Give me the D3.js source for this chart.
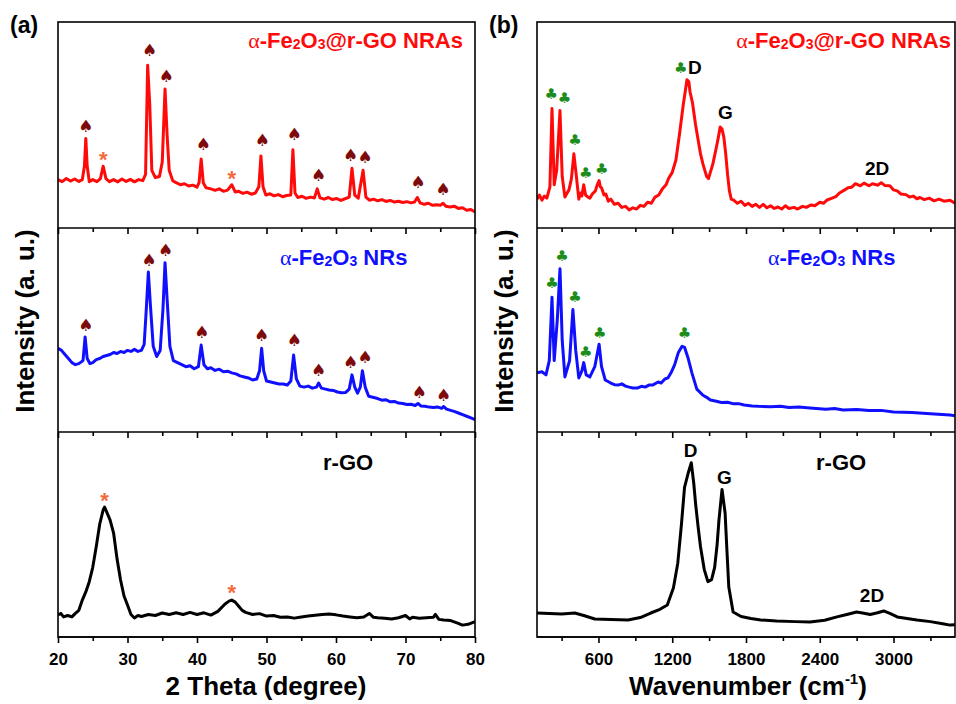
<!DOCTYPE html>
<html><head><meta charset="utf-8">
<script src="https://cdn.jsdelivr.net/npm/d3@7"></script>
<style>body{margin:0;background:#fff}svg{display:block}</style>
</head><body>
<svg id="c" width="956" height="704"></svg>
<script>
// ---------- DATA (intensity in arbitrary units, 0-100 per stacked panel) ----------
const xrdComposite = [[20,23.5],[20.6,22.5],[21.2,24],[21.8,22.8],[22.4,23.8],[23,22.6],[23.5,23.5],[23.8,30],[24.0,43.5],[24.2,30],[24.5,22.5],[25,23.5],[25.6,22.5],[26.1,24],[26.5,30],[26.9,24],[27.4,22.5],[28,23.5],[28.6,22.4],[29.2,23.8],[29.8,22.6],[30.4,23.6],[31,22.4],[31.6,23.5],[32.2,23],[32.6,26],[32.9,79],[33.2,60],[33.5,28],[34,24.5],[34.6,25],[35.0,32],[35.4,67.5],[35.7,45],[36.0,28],[36.5,23],[37,22],[37.6,21],[38.2,21.5],[38.8,20.4],[39.4,20.8],[40,19.8],[40.3,22],[40.6,33.5],[40.9,22],[41.3,19.5],[42,19],[42.6,18.3],[43.2,19],[43.8,17.8],[44.4,18.4],[45,21],[45.5,17.5],[46,17.8],[46.6,16.8],[47.2,17.4],[47.8,16.4],[48.4,17],[48.9,20],[49.2,35],[49.5,20],[49.9,16],[50.5,16.6],[51.1,15.6],[51.7,16.2],[52.3,15.2],[52.9,15.8],[53.5,16],[53.8,38],[54.1,17],[54.5,14.8],[55.1,15.4],[55.7,14.4],[56.3,15],[56.9,14.6],[57.3,19],[57.7,14.6],[58.3,14],[58.9,14.8],[59.5,13.8],[60.1,14.3],[60.7,13.4],[61.3,14.2],[61.9,15],[62.3,29],[62.7,16],[63.2,14.5],[63.9,28],[64.3,15],[64.8,13.5],[65.4,14],[66,13.2],[66.6,13.8],[67.2,12.9],[67.8,13.4],[68.4,12.6],[69,13],[69.6,12.4],[70.2,12.8],[70.8,12.2],[71.3,12.6],[71.7,14.8],[72.1,12.2],[72.7,11.5],[73.3,12],[73.9,11],[74.5,11.3],[75,11],[75.4,12],[75.8,10.6],[76.4,10.2],[77,10.6],[77.6,9.5],[78.2,9.8],[78.8,8.6],[79.4,9],[80,7.8]];
const xrdHematite = [[20,41],[20.5,40],[21,38],[21.5,36],[22,34],[22.5,33],[23,33.5],[23.6,35],[23.9,46.6],[24.2,36],[24.6,33.5],[25,34],[25.5,35.5],[26,36],[26.5,37],[27,37.5],[27.5,38],[28,39],[28.5,38.5],[29,39.5],[29.5,39],[30,40],[30.5,39.5],[31,40.5],[31.5,39.5],[32,40],[32.4,43],[32.7,60],[33.0,78.4],[33.3,62],[33.7,42],[34.2,37],[34.7,40],[35.1,60],[35.4,83],[35.7,65],[36.1,42],[36.6,35],[37.2,34],[37.8,33],[38.4,32],[39,32.5],[39.6,31],[40.2,32],[40.6,42.6],[41,33],[41.5,31],[42,31.5],[42.6,30.2],[43.2,30.8],[43.8,29.5],[44.4,29.8],[45,29],[45.6,28.5],[46.2,27.5],[46.8,27],[47.4,26.5],[48,25.5],[48.6,26],[49.0,30],[49.3,41],[49.6,30],[50,25],[50.6,24.5],[51.2,24],[51.8,23.5],[52.4,23.5],[53,23],[53.5,25],[53.9,37.7],[54.3,26],[54.8,22.5],[55.4,22],[56,22.5],[56.6,21.5],[57.2,22],[57.5,24],[57.9,21.5],[58.5,21],[59,20.6],[59.6,20.4],[60.2,19.6],[60.8,19.2],[61.4,19.4],[61.9,21],[62.3,28],[62.7,22],[63.1,19],[63.5,22],[63.8,30],[64.2,22],[64.7,17.5],[65.3,17],[66,16.4],[66.6,15.6],[67.2,15.8],[67.8,14.8],[68.4,15],[69,14.2],[69.6,14],[70.2,13.5],[70.8,13.6],[71.4,13],[71.8,14],[72.2,12.8],[72.8,12.6],[73.4,12.2],[74,12],[74.6,12.3],[75.2,11.6],[75.5,12.5],[75.9,11.2],[76.5,10.6],[77.1,10],[77.7,9.2],[78.3,8.4],[78.9,7.6],[79.5,6.8],[80,6]];
const xrdRGO = [[20,10.7],[20.4,11.5],[20.8,9.8],[21.4,10.5],[22,9.8],[22.5,11.5],[23,13],[23.5,18],[24,22],[24.5,27],[25,34],[25.5,44],[26,55],[26.5,62],[26.7,63.4],[27,61],[27.5,57],[28,50.7],[28.5,38],[29,27.8],[29.5,20],[30,15.6],[30.5,11],[31,9.3],[31.5,10.5],[32,10],[33,11],[34,10.5],[35,11.7],[36,11],[37,11.8],[38,11],[39,12],[40,11],[41,11.8],[42,10.7],[43,12.5],[44,16],[44.6,17.5],[45,18],[45.5,17],[46,15],[46.5,13],[47,12],[48,11],[49,11.4],[50,10.2],[51,10.5],[52,9.6],[53,9.8],[54,9.2],[55,9.8],[56,10.2],[57,10.6],[58,11],[59,11.2],[60,10.8],[61,10.2],[62,9.8],[63,9.4],[64,9.8],[64.8,11.5],[65.4,9.6],[66,9.4],[67,9.2],[68,8.8],[69,9.4],[70,10.5],[70.6,8.8],[71,9.6],[72,9.2],[73,9.4],[74,9.6],[74.3,11],[74.8,8.6],[75.5,8.3],[76.5,8],[77.5,6.8],[78.2,5.8],[79,6.2],[80,7.5]];

const ramanComposite = [[100,14],[120,16],[140,13.5],[160,15.5],[180,14.5],[205,20],[222,58],[240,21],[260,28],[287,57],[305,25],[327,15],[345,17],[360,18.5],[380,24],[400,36],[415,28],[440,14],[455,17],[465,15.5],[480,21],[495,16],[515,15],[530,14.5],[550,16.5],[575,18],[590,21],[605,23],[615,20],[625,19.5],[645,16],[660,16.5],[680,13],[700,14],[730,11.5],[760,12],[790,10],[820,10.5],[850,8.8],[880,9.8],[910,9.2],[940,11],[970,10.5],[1000,12.5],[1030,12],[1060,15],[1090,16],[1120,19],[1150,21],[1170,24],[1200,27],[1230,33],[1260,46],[1290,60],[1310,68],[1320,72],[1335,71],[1345,66],[1365,60.7],[1390,50],[1410,43],[1430,36],[1450,31],[1465,28],[1480,25],[1495,24],[1510,27],[1530,31],[1555,38],[1575,44],[1590,49],[1605,48],[1620,44],[1635,36],[1650,26],[1665,18],[1680,14],[1700,13.5],[1730,12],[1760,13],[1790,11],[1820,12],[1850,10.5],[1880,11.5],[1910,10],[1940,11.5],[1970,9.8],[2000,10.8],[2030,9.5],[2060,10.2],[2090,9.2],[2120,10.8],[2150,9.5],[2190,10],[2220,9.2],[2260,10.5],[2290,10],[2330,11.2],[2360,10.8],[2400,12.5],[2430,12],[2460,13.6],[2500,14.5],[2530,15.2],[2560,17],[2600,18.4],[2630,19.5],[2660,19.8],[2690,21.5],[2730,20.5],[2760,21.8],[2800,20.5],[2830,21.5],[2870,20.8],[2900,22],[2930,20.6],[2970,20.5],[3000,18.5],[3030,18],[3060,16.5],[3100,16.2],[3130,15],[3160,15.5],[3190,14.2],[3215,14.8],[3250,13.8],[3290,14.5],[3330,13.2],[3370,14],[3410,13],[3460,13.5],[3500,12]];
const ramanHematite = [[100,29],[140,29.5],[173,28],[200,35],[222,66],[240,35],[265,55],[287,80],[305,45],[327,27],[365,35],[392,60],[415,40],[440,26.5],[465,30],[480,34],[500,28],[530,27],[570,32],[605,43],[625,32],[655,25.5],[700,24],[730,23.2],[760,23],[790,23.6],[820,22.5],[850,22],[880,21.6],[920,21.6],[950,22.4],[980,22],[1010,23],[1040,23],[1085,24.5],[1110,24],[1140,26],[1165,26.5],[1190,29],[1220,33],[1250,39],[1280,42],[1300,41.5],[1330,36],[1360,29],[1400,21],[1450,18],[1480,17],[1510,15.7],[1550,15.2],[1600,14.5],[1650,14.6],[1700,13.8],[1740,13.9],[1785,13.2],[1850,12.8],[1900,12.6],[2000,12.4],[2080,12.6],[2150,12],[2230,12.2],[2320,11.8],[2450,11.2],[2520,11.5],[2590,10.8],[2700,11],[2800,10.5],[2900,10.6],[3000,9.8],[3150,9.5],[3300,9],[3460,8.3],[3500,8]];
const ramanRGO = [[100,11.7],[200,11.5],[300,11.2],[407,11.7],[480,10.5],[570,8.8],[700,8.5],[840,8.3],[940,9.5],[1025,11.7],[1100,13.5],[1160,15.6],[1210,24],[1245,36],[1275,55],[1300,73],[1330,80],[1355,85],[1375,75],[1390,65],[1410,54],[1430,44],[1460,33],[1490,27],[1520,28],[1545,34],[1565,45],[1580,57],[1605,72],[1630,60.5],[1645,42],[1660,24.4],[1695,12.2],[1760,10],[1840,9],[1920,8.3],[2050,7.8],[2200,7.5],[2320,7.3],[2440,8.2],[2540,9.8],[2620,11],[2700,12.2],[2760,11.6],[2810,11],[2870,11.8],[2920,12.7],[2970,11.5],[3030,9.8],[3110,9],[3190,8.3],[3300,7.5],[3400,6.5],[3460,5.8],[3500,6]];

// peak markers
const spadesComposite = [[24,49.5],[33.2,86.4],[35.6,73.8],[40.9,40.8],[49.4,42.7],[54,45.6],[57.5,25.7],[62.1,35.4],[64.2,34.5],[71.8,22.3],[75.4,18.9]];
const starsComposite = [[26.5,36],[45,26.7]];
const spadesHematite = [[24,52.5],[33.1,84.3],[35.5,89.2],[40.7,49],[49.3,47.5],[54,45],[57.5,30.4],[62.1,34.3],[64.2,36.8],[72,19.6],[75.5,18.1]];
const starsRGO = [[26.7,69.3],[45,24.4]];
const clubsComposite = [[216,65.5],[324,63.6],[408,43],[497,27.2],[627,29],[1270,78]];
const clubsHematite = [[222,73.5],[303,86.8],[408,66.7],[497,39.7],[611,49],[1300,49]];
const bandsComposite = [["D",1385,74.8],["G",1633,52.9],["2D",2866,25.7]];
const bandsRGO = [["D",1349,87.8],["G",1625,74.6],["2D",2825,17.1]];

const xrdTicks = [20,30,40,50,60,70,80];
const xrdMinor = [25,35,45,55,65,75];
const ramanTicks = [600,1200,1800,2400,3000];
const ramanMinor = [300,900,1500,2100,2700,3300];

// ---------- LAYOUT ----------
const svg = d3.select("#c");
const rows = [22,228,432,637];
const FONT = "'Liberation Sans', Arial, Helvetica, sans-serif";
const RED = "#ff0a0a", BLUE = "#1010ff", BLACK = "#000";
const SPADE = "#7d0b0b", CLUB = "#1c8c1c", STAR = "#f26a3d";

const panels = [
  {x0:58,x1:475,domain:[20,80],major:xrdTicks,minor:xrdMinor,
   series:[xrdComposite,xrdHematite,xrdRGO],
   ylabX:34, letter:"(a)", letterX:10},
  {x0:537,x1:955,domain:[100,3500],major:ramanTicks,minor:ramanMinor,
   series:[ramanComposite,ramanHematite,ramanRGO],
   ylabX:513, letter:"(b)", letterX:489}
];
const colors = [RED,BLUE,BLACK];

panels.forEach((p,pi)=>{
  const x = d3.scaleLinear().domain(p.domain).range([p.x0,p.x1]);
  p.x = x;
  p.y = [0,1,2].map(r=>d3.scaleLinear().domain([0,100]).range([rows[r+1],rows[r]]));
  const cid = "clip"+pi;
  svg.append("clipPath").attr("id",cid).append("rect")
    .attr("x",p.x0).attr("y",rows[0]).attr("width",p.x1-p.x0).attr("height",rows[3]-rows[0]);
  p.series.forEach((s,r)=>{
    const line = d3.line().x(d=>x(d[0])).y(d=>p.y[r](d[1]));
    svg.append("path").datum(s).attr("d",line).attr("fill","none")
      .attr("stroke",colors[r]).attr("stroke-width",3)
      .attr("stroke-linejoin","round").attr("clip-path",`url(#${cid})`);
  });
  [0,1,2].forEach(r=>{
    const g = svg.append("g").attr("transform",`translate(0,${rows[r+1]})`);
    g.call(d3.axisBottom(x).tickValues(p.major).tickSize(6).tickPadding(10)
      .tickFormat(r===2 ? d3.format("d") : ""));
    g.select(".domain").remove();
    const gm = svg.append("g").attr("transform",`translate(0,${rows[r+1]})`);
    gm.call(d3.axisBottom(x).tickValues(p.minor).tickSize(4).tickFormat(""));
    gm.select(".domain").remove();
    [g,gm].forEach(a=>a.selectAll("line").attr("stroke","#000").attr("stroke-width",1.6));
    g.selectAll("text").attr("font-family",FONT).attr("font-weight","bold")
      .attr("font-size",17).attr("fill","#000");
    svg.append("line").attr("x1",p.x0).attr("x2",p.x1)
      .attr("y1",rows[r+1]).attr("y2",rows[r+1]).attr("stroke","#000").attr("stroke-width",1.6);
  });
  svg.append("rect").attr("x",p.x0).attr("y",rows[0]).attr("width",p.x1-p.x0)
    .attr("height",rows[3]-rows[0]).attr("fill","none").attr("stroke","#000").attr("stroke-width",1.6);
  svg.append("text").attr("transform",`translate(${p.ylabX},${321}) rotate(-90)`)
    .attr("text-anchor","middle").attr("font-family",FONT).attr("font-weight","bold")
    .attr("font-size",26).text("Intensity (a. u.)");
  svg.append("text").attr("x",p.letterX).attr("y",33).attr("font-family",FONT)
    .attr("font-weight","bold").attr("font-size",23).text(p.letter);
});

svg.append("text").attr("x",266).attr("y",695).attr("text-anchor","middle")
  .attr("font-family",FONT).attr("font-weight","bold").attr("font-size",26).text("2 Theta (degree)");
const t1 = svg.append("text").attr("x",748).attr("y",695).attr("text-anchor","middle")
  .attr("font-family",FONT).attr("font-weight","bold").attr("font-size",26);
t1.append("tspan").text("Wavenumber (cm");
t1.append("tspan").attr("dy",-11).attr("font-size",15).text("-1");
t1.append("tspan").attr("dy",11).text(")");

function sampleLabel(x, y, anchor, color, composite, size){
  const t = svg.append("text").attr("x",x).attr("y",y).attr("text-anchor",anchor)
    .attr("font-family",FONT).attr("font-weight","bold").attr("font-size",size).attr("fill",color);
  const sub = Math.round(size*0.62);
  t.append("tspan").attr("font-family","'Liberation Serif', 'Times New Roman', serif")
    .attr("font-weight","normal").text("α");
  t.append("tspan").text("-Fe");
  t.append("tspan").attr("font-size",sub).attr("dy",1).text("2");
  t.append("tspan").attr("dy",-1).text("O");
  t.append("tspan").attr("font-size",sub).attr("dy",1).text("3");
  t.append("tspan").attr("dy",-1).text(composite ? "@r-GO NRAs" : " NRs");
}
sampleLabel(463,48,"end",RED,true,22);
sampleLabel(951,48,"end",RED,true,22);
sampleLabel(280,265,"start",BLUE,false,22);
sampleLabel(768,265,"start",BLUE,false,22);
[323,816].forEach(xx=>{
  svg.append("text").attr("x",xx).attr("y",470).attr("font-family",FONT)
    .attr("font-weight","bold").attr("font-size",22).text("r-GO");
});

function glyphs(data, p, r, ch, color, size, dy){
  svg.append("g").selectAll("text").data(data).join("text")
    .attr("x",d=>p.x(d[0])).attr("y",d=>p.y[r](d[1])+dy)
    .attr("text-anchor","middle").attr("font-family","'DejaVu Sans', sans-serif")
    .attr("font-size",size).attr("fill",color).text(ch);
}
glyphs(spadesComposite, panels[0], 0, "♠", SPADE, 17, 6);
glyphs(spadesHematite, panels[0], 1, "♠", SPADE, 17, 6);
function stars(data, p, r){
  svg.append("g").selectAll("text").data(data).join("text")
    .attr("x",d=>p.x(d[0])).attr("y",d=>p.y[r](d[1])+13)
    .attr("text-anchor","middle").attr("font-family",FONT).attr("font-weight","bold")
    .attr("font-size",22).attr("fill",STAR).text("*");
}
stars(starsComposite, panels[0], 0);
stars(starsRGO, panels[0], 2);
glyphs(clubsComposite, panels[1], 0, "♣", CLUB, 15, 6);
glyphs(clubsHematite, panels[1], 1, "♣", CLUB, 15, 6);
function bands(data, p, r){
  svg.append("g").selectAll("text").data(data).join("text")
    .attr("x",d=>p.x(d[1])).attr("y",d=>p.y[r](d[2]))
    .attr("text-anchor","middle").attr("font-family",FONT).attr("font-weight","bold")
    .attr("font-size",19).attr("fill","#000").text(d=>d[0]);
}
bands(bandsComposite, panels[1], 0);
bands(bandsRGO, panels[1], 2);
</script>
</body></html>
